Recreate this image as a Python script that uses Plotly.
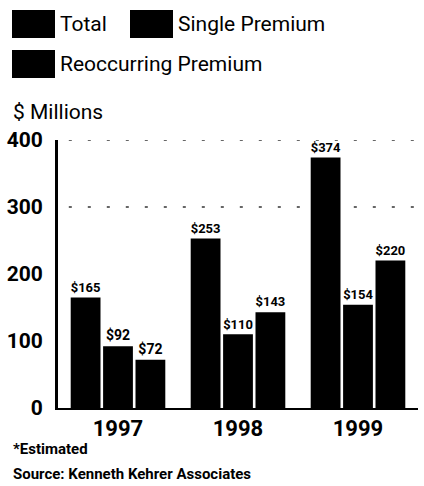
import plotly.graph_objects as go

years = ["1997", "1998", "1999"]
total = [165, 253, 374]
single = [92, 110, 154]
reoccurring = [72, 143, 220]
series_names = ["Total", "Single Premium", "Reoccurring Premium"]
y_ticks = [0, 100, 200, 300, 400]
grid_values = [300, 400]

FONT = "Roboto, Liberation Sans, sans-serif"

fig = go.Figure()
for name, vals in zip(series_names, [total, single, reoccurring]):
    fig.add_trace(go.Bar(
        x=years, y=vals, name=name,
        marker=dict(color="black", line=dict(width=0)),
        text=[f"${v}" for v in vals], textposition="outside",
        textfont=dict(family=FONT, size=14, color="black", weight="bold"),
        cliponaxis=False, showlegend=False,
    ))

for gv in grid_values:
    fig.add_shape(type="line", xref="paper", yref="y", x0=0.03, x1=1, y0=gv, y1=gv,
                  line=dict(color="#666", width=2, dash="3px,16px"), layer="below")

PL, PB, PW, PH = 58, 408, 360, 268  # plot-area pixel frame (left, bottom, width, height)

def px_x(p):
    return (p - PL) / PW

def px_y(p):
    return (PB - p) / PH

# custom legend (large swatches)
leg = [("Total", 12, 10), ("Single Premium", 130, 10), ("Reoccurring Premium", 12, 50)]
for name, lx, ly in leg:
    fig.add_shape(type="rect", xref="paper", yref="paper",
                  x0=px_x(lx), x1=px_x(lx + 43), y0=px_y(ly), y1=px_y(ly + 28),
                  fillcolor="black", line=dict(width=0))
    fig.add_annotation(text=name, xref="paper", yref="paper",
                       x=px_x(lx + 46), y=px_y(ly + 14),
                       xanchor="left", yanchor="middle", showarrow=False,
                       font=dict(family=FONT, size=21, color="black"))

fig.add_annotation(text="$ Millions", xref="paper", yref="paper",
                   x=px_x(11), y=px_y(112), xanchor="left", yanchor="middle",
                   showarrow=False, font=dict(family=FONT, size=21, color="black"))
fig.add_annotation(text="*Estimated", xref="paper", yref="paper",
                   x=px_x(11), y=px_y(449), xanchor="left", yanchor="middle",
                   showarrow=False, font=dict(family=FONT, size=15, color="black", weight="bold"))
fig.add_annotation(text="Source: Kenneth Kehrer Associates", xref="paper", yref="paper",
                   x=px_x(11), y=px_y(474), xanchor="left", yanchor="middle",
                   showarrow=False, font=dict(family=FONT, size=15, color="black", weight="bold"))

fig.update_layout(
    width=424, height=486,
    margin=dict(l=PL, r=424 - PL - PW, t=PB - PH, b=486 - PB),
    paper_bgcolor="white", plot_bgcolor="white",
    barmode="group", bargap=0.19, bargroupgap=0.08,
    font=dict(family=FONT, color="black"),
    xaxis=dict(showgrid=False, showline=True, linecolor="black", linewidth=2,
               ticks="", ticklabelstandoff=0,
               tickfont=dict(family=FONT, size=22, color="black", weight="bold")),
    yaxis=dict(range=[0, 400], tickvals=y_ticks, showgrid=False, zeroline=False,
               showline=True, linecolor="black", linewidth=3, ticks="",
               ticklabelstandoff=8,
               tickfont=dict(family=FONT, size=21, color="black", weight="bold")),
)

fig.write_html("out.html")
